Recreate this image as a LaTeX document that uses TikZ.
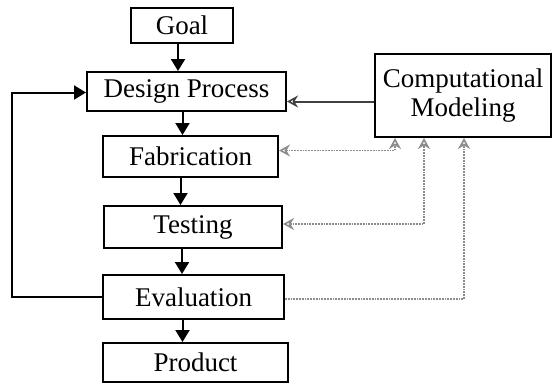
\documentclass[tikz,border=0pt]{standalone}
\usepackage{fontspec}
\setmainfont{Liberation Serif}
\usetikzlibrary{arrows.meta,calc}
\begin{document}
\begin{tikzpicture}[x=1pt,y=-1pt,
  box/.style={draw=black,line width=2pt,inner sep=0pt,align=center,
    font=\fontsize{27}{28}\selectfont},
  flow/.style={line width=2pt,-{Triangle[length=12pt,width=14pt]}},
  cmarrow/.style={line width=2pt,draw=black!75,-{Stealth[open,length=11pt,width=12pt,line width=1.6pt]}},
  grayline/.style={line width=1.8pt,draw=black!45,densely dotted,
    >={Stealth[open,length=11pt,width=12pt,line width=1.6pt,black!45]}}
]
\useasboundingbox (0,0) rectangle (553,383);
\node[box,minimum width=102pt,minimum height=35pt] (goal) at (182,25.5) {Goal};
\node[box,minimum width=199pt,minimum height=39pt] (design) at (186.5,91.5) {Design Process};
\node[box,minimum width=175pt,minimum height=41pt] (fab) at (190.5,156.5) {Fabrication};
\node[box,minimum width=178pt,minimum height=42pt] (test) at (193,227) {Testing};
\node[box,minimum width=181pt,minimum height=44pt] (eval) at (193.5,297) {Evaluation};
\node[box,minimum width=185pt,minimum height=39pt] (prod) at (195.5,362.5) {Product};
\node[box,minimum width=176pt,minimum height=83pt,font=\fontsize{27}{29}\selectfont] (cm) at (463,95.5) {Computational\\Modeling};

% main flow
\draw[flow] ([xshift=-4pt]goal.south) -- ([xshift=-4pt]goal.south |- design.north);
\draw[flow] ([xshift=-4pt]design.south) -- ([xshift=-4pt]design.south |- fab.north);
\draw[flow] ([xshift=-10pt]fab.south) -- ([xshift=-10pt]fab.south |- test.north);
\draw[flow] ([xshift=-11pt]test.south) -- ([xshift=-11pt]test.south |- eval.north);
\draw[flow] ([xshift=-11pt]eval.south) -- ([xshift=-11pt]eval.south |- prod.north);

% feedback loop
\coordinate (loopx) at (12,0);
\draw[flow] (eval.west) -- (eval.west -| loopx) -- ([yshift=-1pt]design.west -| loopx) -- ([yshift=-1pt]design.west);

% computational modeling to design
\draw[cmarrow] ([yshift=-6pt]cm.west) -- ([yshift=-6pt]cm.west -| design.east);

% gray links
\coordinate (c1) at ([xshift=21pt]cm.south west);
\coordinate (c2) at ([xshift=50pt]cm.south west);
\coordinate (c3) at ([xshift=90pt]cm.south west);
\draw[grayline,<->] ([yshift=6pt]fab.east) -- ([yshift=6pt]fab.east -| c1) -- (c1);
\draw[grayline,<->] ([yshift=3pt]test.east) -- ([yshift=3pt]test.east -| c2) -- (c2);
\draw[grayline,->] ([yshift=-2pt]eval.east) -- ([yshift=-2pt]eval.east -| c3) -- (c3);
\end{tikzpicture}
\end{document}
